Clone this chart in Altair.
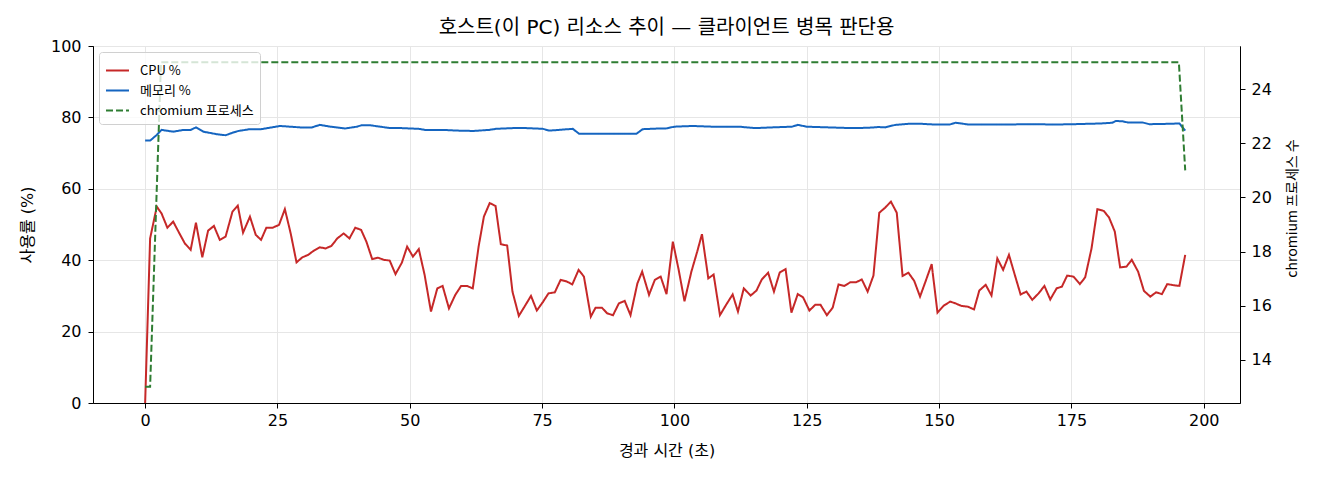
import altair as alt
import pandas as pd

FONT = "Noto Sans CJK KR"
MIX = "'DejaVu Sans', 'Noto Sans CJK KR'"

# 경과 시간(초)과 CPU 사용률
cpu_t = [0, 0.94, 2.2, 3.1, 4.2, 5.3, 6.3, 7.5, 8.6, 9.6, 10.8, 11.9, 13.0, 14.1, 15.2,
         16.5, 17.5, 18.5, 19.8, 20.9, 21.9, 22.9, 24.1, 25.3, 26.4, 27.5, 28.6, 29.7,
         30.8, 31.9, 33.0, 34.1, 35.2, 36.3, 37.5, 38.6, 39.7, 40.8, 41.8, 42.9, 44.0,
         45.1, 46.2, 47.3, 48.5, 49.5, 50.6, 51.7, 52.8, 54.0, 55.2, 56.2, 57.4, 58.6,
         59.7, 60.8, 61.9, 63.0, 64.0, 65.1, 66.2, 67.2, 68.4, 69.4, 70.6, 71.8, 72.9,
         74.0, 75.2, 76.2, 77.4, 78.5, 79.7, 80.7, 81.9, 82.9, 84.2, 85.1, 86.3, 87.3,
         88.4, 89.5, 90.6, 91.7, 93.0, 93.9, 95.2, 96.3, 97.4, 98.5, 99.7, 100.8, 101.9,
         103.2, 104.3, 105.2, 106.4, 107.4, 108.6, 109.8, 111.0, 112.0, 113.1, 114.4,
         115.5, 116.5, 117.7, 118.8, 119.9, 121.0, 122.1, 123.3, 124.3, 125.5, 126.6,
         127.6, 128.8, 129.9, 131.0, 132.1, 133.2, 134.3, 135.4, 136.5, 137.6, 138.7,
         139.8, 140.9, 142.0, 143.1, 144.2, 145.3, 146.4, 147.5, 148.6, 149.7, 150.9,
         152.1, 153.1, 154.2, 155.4, 156.6, 157.6, 158.8, 159.9, 161.0, 162.1, 163.2,
         164.3, 165.4, 166.5, 167.6, 168.8, 169.9, 171.0, 172.2, 173.2, 174.2, 175.4,
         176.6, 177.6, 178.8, 179.9, 181.1, 182.1, 183.2, 184.2, 185.4, 186.4, 187.6,
         188.7, 189.9, 191.0, 192.1, 193.1, 194.3, 195.4, 196.5]
cpu = [0, 46.1, 55.0, 53.1, 49.1, 50.8, 48.0, 44.7, 42.9, 50.5, 40.8, 48.3, 49.6, 45.7, 46.6,
       53.6, 55.3, 47.7, 52.2, 47.1, 45.7, 49.1, 49.1, 49.9, 54.3, 47.5, 39.4, 40.8,
       41.5, 42.7, 43.6, 43.3, 44.0, 46.1, 47.5, 46.1, 49.1, 48.5, 45.2, 40.3, 40.7,
       40.1, 39.9, 36.1, 39.3, 43.8, 41.0, 43.1, 35.9, 25.6, 32.1, 32.8, 26.5, 30.3,
       32.8, 32.8, 32.1, 43.8, 52.2, 56.0, 55.2, 44.5, 44.1, 31.2, 24.4, 27.3, 30.0,
       25.9, 28.4, 30.7, 31.0, 34.5, 34.0, 33.2, 37.3, 35.4, 24.2, 26.7, 26.7, 25.1,
       24.6, 27.9, 28.6, 24.6, 33.5, 36.8, 30.3, 34.5, 35.4, 30.5, 45.2, 37.3, 28.5,
       36.8, 42.4, 47.3, 34.9, 36.0, 24.6, 27.6, 30.4, 25.6, 32.1, 30.1,
       31.5, 34.6, 36.5, 31.2, 36.6, 37.5, 25.3, 30.5, 29.6, 25.9, 27.5,
       27.5, 24.6, 26.7, 33.2, 32.8, 33.8, 33.8, 34.6, 31.2, 35.7, 53.3,
       54.7, 56.4, 53.3, 35.6, 36.5, 34.2, 29.8, 34.3, 38.9, 25.3, 27.3,
       28.4, 27.9, 27.2, 27.0, 26.2, 31.5, 33.1, 30.1, 40.5, 37.3, 41.5,
       35.9, 30.4, 31.2, 28.9, 30.7, 32.8, 29.0, 32.1, 32.6, 35.7, 35.4,
       33.3, 35.2, 43.3, 54.3, 53.8, 52.0, 48.0, 38.0, 38.2, 40.1, 36.8,
       31.4, 29.8, 31.0, 30.5, 33.3, 33.0, 32.8, 41.5]

# 메모리 사용률
mem_t = [0, 0.94, 2.2, 3.1, 5.3, 7.3, 8.6, 9.6, 11.0, 13.5, 15.2, 16.5, 17.6, 19.8, 21.9,
         23.5, 25.5, 27.4, 29.3, 31.5, 33.0, 35.0, 37.8, 40.0, 40.9, 42.5, 44.4, 46.3,
         48.5, 51.7, 52.9, 56.4, 59.0, 62.0, 65.0, 66.3, 69.5, 72.0, 75.1, 76.4, 80.8,
         82.0, 92.8, 94.0, 97.2, 98.4, 100.0, 103.4, 107.2, 112.2, 115.3, 118.4, 122.2,
         123.3, 125.0, 129.1, 133.5, 136.7, 138.5, 139.8, 141.7, 144.2, 146.7, 149.2,
         152.0, 153.1, 154.2, 155.5, 161.7, 168.0, 171.8, 175.5, 180.6, 182.7, 183.4,
         184.7, 185.6, 188.4, 189.7, 193.2, 195.4, 196.5]
mem = [73.5, 73.5, 75.1, 76.5, 76.0, 76.5, 76.5, 77.2, 76.0, 75.3, 75.0, 75.7, 76.2, 76.7, 76.7,
       77.1, 77.6, 77.4, 77.2, 77.2, 77.9, 77.4, 76.9, 77.4, 77.8, 77.8, 77.4, 77.0,
       77.0, 76.8, 76.5, 76.5, 76.3, 76.2, 76.5, 76.8, 77.0, 77.0, 76.8, 76.3, 76.8,
       75.4, 75.4, 76.7, 76.9, 76.9, 77.4, 77.6, 77.4, 77.4, 77.0, 77.2, 77.4,
       77.9, 77.4, 77.2, 77.0, 77.1, 77.3, 77.2, 77.9, 78.2, 78.2, 78.0,
       78.0, 78.5, 78.3, 78.0, 78.0, 78.1, 78.0, 78.1, 78.3, 78.5, 79.0,
       78.9, 78.6, 78.6, 78.1, 78.2, 78.3, 76.3]

# chromium 프로세스 수
proc_t = [0, 0.94, 3.0, 195.3, 196.5]
proc = [13, 13, 25, 25, 21]

series = ["CPU %", "메모리 %", "chromium 프로세스"]
colors = ["#c62828", "#1565c0", "#2e7d32"]

left_df = pd.concat([
    pd.DataFrame({"t": cpu_t, "value": cpu, "series": series[0]}),
    pd.DataFrame({"t": mem_t, "value": mem, "series": series[1]}),
])
right_df = pd.DataFrame({"t": proc_t, "value": proc, "series": series[2]})

x = alt.X("t:Q", title="경과 시간 (초)",
          scale=alt.Scale(domain=[-9.85, 206.85], nice=False, zero=False),
          axis=alt.Axis(values=list(range(0, 201, 25)), grid=True, labelPadding=4,
                        titleY=47, titleBaseline="middle"))

legend = alt.Legend(title=None, orient="top-left", offset=6, symbolType="stroke",
                    symbolSize=529, symbolStrokeWidth=2, labelFontSize=13,
                    labelFont=FONT, labelOffset=10, rowPadding=0, padding=6,
                    fillColor="rgba(255,255,255,0.8)", strokeColor="#d0d0d0",
                    cornerRadius=3)
color = alt.Color("series:N", scale=alt.Scale(domain=series, range=colors), legend=legend)
dash = alt.StrokeDash("series:N",
                      scale=alt.Scale(domain=series, range=[[1, 0], [1, 0], [7, 3]]),
                      legend=legend)

left = alt.Chart(left_df).mark_line(strokeWidth=2).encode(
    x=x,
    y=alt.Y("value:Q", title="사용률 (%)",
            scale=alt.Scale(domain=[0, 100], nice=False),
            axis=alt.Axis(values=list(range(0, 101, 20)), grid=True, labelPadding=7,
                          titleX=-66, titleBaseline="middle")),
    color=color,
    strokeDash=dash,
)

right = alt.Chart(right_df).mark_line(strokeWidth=2).encode(
    x=x,
    y=alt.Y("value:Q", title="chromium 프로세스 수",
            scale=alt.Scale(domain=[12.4, 25.6], nice=False, zero=False),
            axis=alt.Axis(orient="right", values=list(range(14, 25, 2)), grid=False,
                          labelPadding=6, titleAngle=270, titleX=52, titleY=162,
                          titleBaseline="middle", titleFont=FONT, titleFontSize=14)),
    color=color,
    strokeDash=dash,
)

chart = alt.layer(left, right).resolve_scale(y="independent").properties(
    width=1147,
    height=357,
    title=alt.TitleParams("호스트(이 PC) 리소스 추이 — 클라이언트 병목 판단용", offset=0),
    autosize=alt.AutoSizeParams(type="none"),
    padding={"left": 85, "top": 38, "right": 70, "bottom": 65},
).configure_view(
    stroke="black", strokeWidth=1
).configure_axis(
    labelFont="DejaVu Sans", titleFont=MIX, labelFontSize=16, titleFontSize=16,
    titleFontWeight="normal", labelColor="black", titleColor="black",
    tickColor="black", domainColor="black", tickSize=5,
    gridColor="#e6e6e6"
).configure_title(
    font=MIX, fontSize=20, fontWeight="normal", color="black"
)

chart.save("out.html", embed_options={"renderer": "svg", "actions": False})
